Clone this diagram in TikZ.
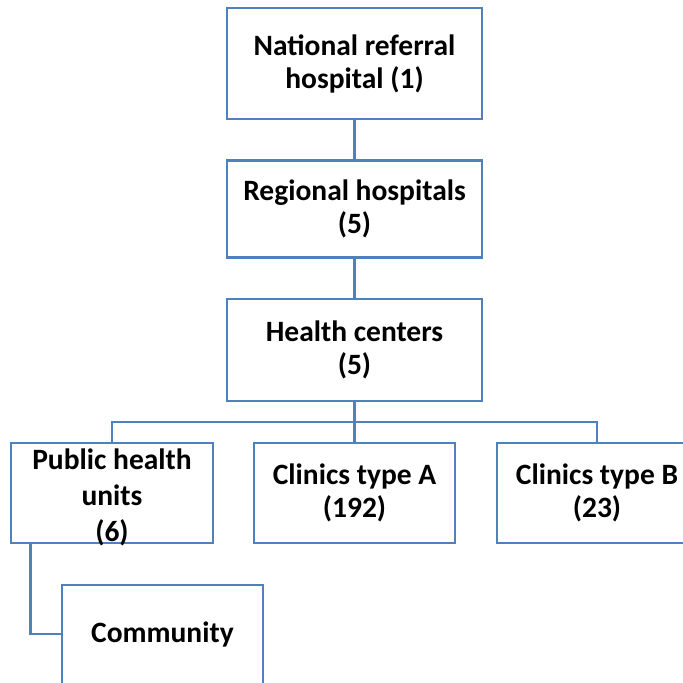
\documentclass[tikz,border=0pt]{standalone}
\usepackage{fontspec}
\setmainfont{Carlito}
\definecolor{boxblue}{RGB}{79,129,189}
\begin{document}
\begin{tikzpicture}[x=1pt,y=-1pt,
  box/.style={draw=boxblue, line width=2.7pt, fill=white, inner sep=0pt, align=center,
    font=\bfseries\fontsize{29.5}{33}\selectfont},
  lbl/.style={inner sep=0pt, align=center, font=\bfseries\fontsize{29.5}{33}\selectfont},
  conn/.style={draw=boxblue, line width=2.7pt}]
\useasboundingbox (0,0) rectangle (683,683);
\clip (0,0) rectangle (683,683);
\fill[white] (0,0) rectangle (683,683);
% boxes
\node[box, minimum width=255, minimum height=111] (top) at (354.5,63.5) {National referral\\hospital (1)};
\node[box, minimum width=255, minimum height=97] (reg) at (354.5,209) {Regional hospitals\\(5)};
\node[box, minimum width=255, minimum height=102] (hc) at (354.5,350) {Health centers\\(5)};
\node[box, minimum width=202, minimum height=100] (pub) at (112,493) {};
\node[box, minimum width=201, minimum height=100] (cla) at (354.5,493) {Clinics type A\\(192)};
\node[box, minimum width=200, minimum height=100] (clb) at (597,493) {Clinics type B\\(23)};
\node[box, minimum width=201, minimum height=110] (comm) at (162.5,640) {};
\coordinate (bus) at (354.5,422);
% connectors
\draw[conn] (top.south) -- (reg.north);
\draw[conn] (reg.south) -- (hc.north);
\draw[conn] (hc.south) -- (cla.north);
\draw[conn] (pub.north) |- (bus) -| (clb.north);
\draw[conn] ([xshift=20.5pt]pub.south west) |- ([yshift=6pt]comm.west);
% labels
\node[lbl, font=\bfseries\fontsize{29.5}{36}\selectfont] (publbl) at (112,497) {Public health\\units\\(6)};
\node[lbl] (commlbl) at (162.5,634) {Community};
\end{tikzpicture}
\end{document}
